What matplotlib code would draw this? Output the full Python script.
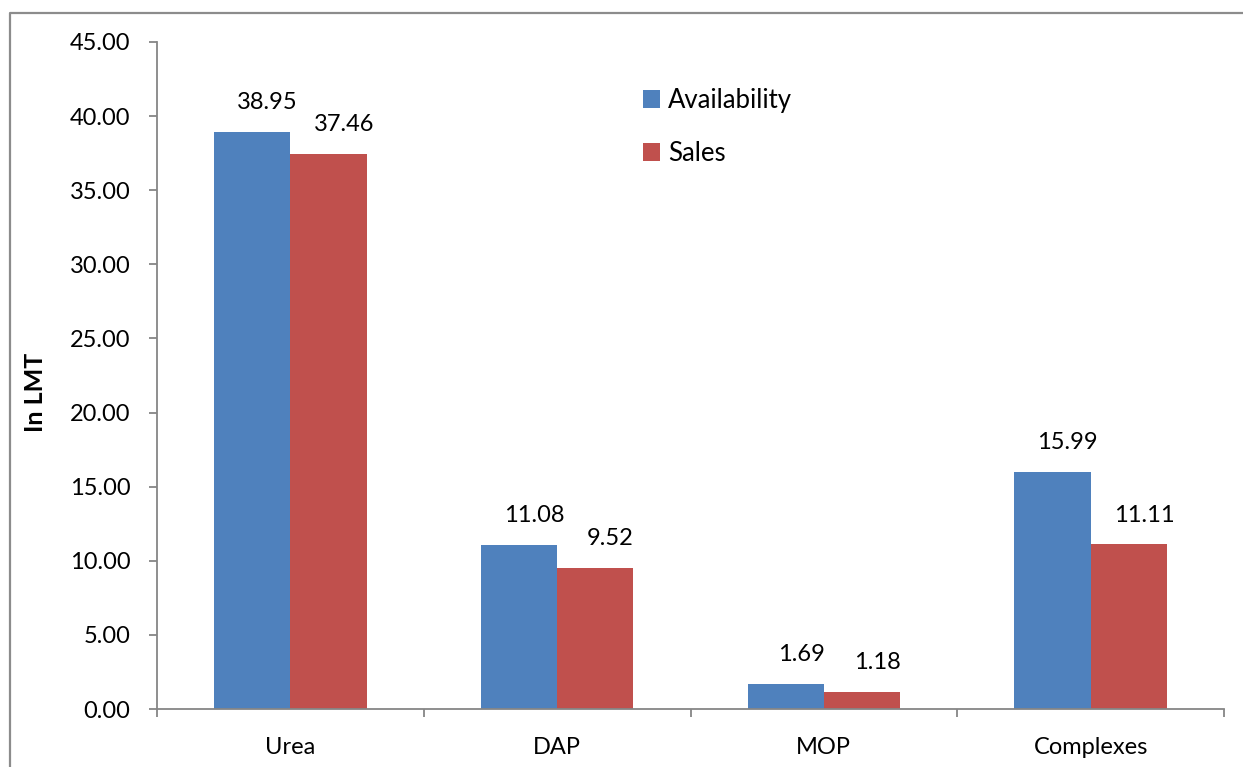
import matplotlib
matplotlib.use("Agg")
import matplotlib.pyplot as plt
import numpy as np
from matplotlib.lines import Line2D

categories = ["Urea", "DAP", "MOP", "Complexes"]
availability = [38.95, 11.08, 1.69, 15.99]
sales = [37.46, 9.52, 1.18, 11.11]
yticks = [0, 5, 10, 15, 20, 25, 30, 35, 40, 45]

plt.rcParams['font.family'] = ['Lato', 'DejaVu Sans']

W, H = 1243, 767
fig = plt.figure(figsize=(W/100, H/100), dpi=100)
ax = fig.add_axes([157/W, 1-709/H, (1224-157)/W, (709-42)/H])

blue = "#4F81BD"
red = "#C0504D"
fs = 17
x = np.arange(len(categories))
bw = 0.2857
b1 = ax.bar(x - bw/2, availability, bw, color=blue, label="Availability")
b2 = ax.bar(x + bw/2, sales, bw, color=red, label="Sales")

for bars, vals in ((b1, availability), (b2, sales)):
    for r, v in zip(bars, vals):
        ax.annotate(f"{v:.2f}", (r.get_x() + r.get_width()/2, r.get_height()),
                    xytext=(11, 21), textcoords="offset points",
                    ha="center", va="center", fontsize=fs, color="black")

ax.set_xlim(-0.5, len(categories) - 0.5)
ax.set_ylim(0, 45)
ax.set_yticks(yticks)
ax.set_yticklabels([f"{t:.2f}" for t in yticks], fontsize=fs)
ax.set_xticks(x)
ax.set_xticklabels(categories, fontsize=fs)
ax.set_xticks(np.arange(len(categories) + 1) - 0.5, minor=True)
ax.tick_params(axis='x', which='major', length=0, pad=20)
ax.tick_params(axis='x', which='minor', length=6, width=1.3, color="#868686", direction='out')
ax.tick_params(axis='y', length=6, width=1.3, color="#868686", pad=13)
for s in ("top", "right"):
    ax.spines[s].set_visible(False)
for s in ("left", "bottom"):
    ax.spines[s].set_color("#868686")
    ax.spines[s].set_linewidth(1.3)

ax.set_ylabel("In LMT", fontsize=18, fontweight="bold")
ax.yaxis.set_label_coords(-110/1067, 0.475)

fig.legend(loc="upper left", bbox_to_anchor=(643/W, 1-88/H), frameon=False,
           fontsize=18.5, handlelength=0.66, handleheight=0.66, handletextpad=0.3,
           labelspacing=1.09, borderpad=0, borderaxespad=0)

# outer chart-area border (top and left visible)
bx, by = 10/W, 1 - 13/H
fig.add_artist(Line2D([bx, bx, 1.05], [-0.05, by, by], transform=fig.transFigure,
                      color="#8c8c8c", linewidth=1.6))

fig.savefig("out.png", dpi=100)
